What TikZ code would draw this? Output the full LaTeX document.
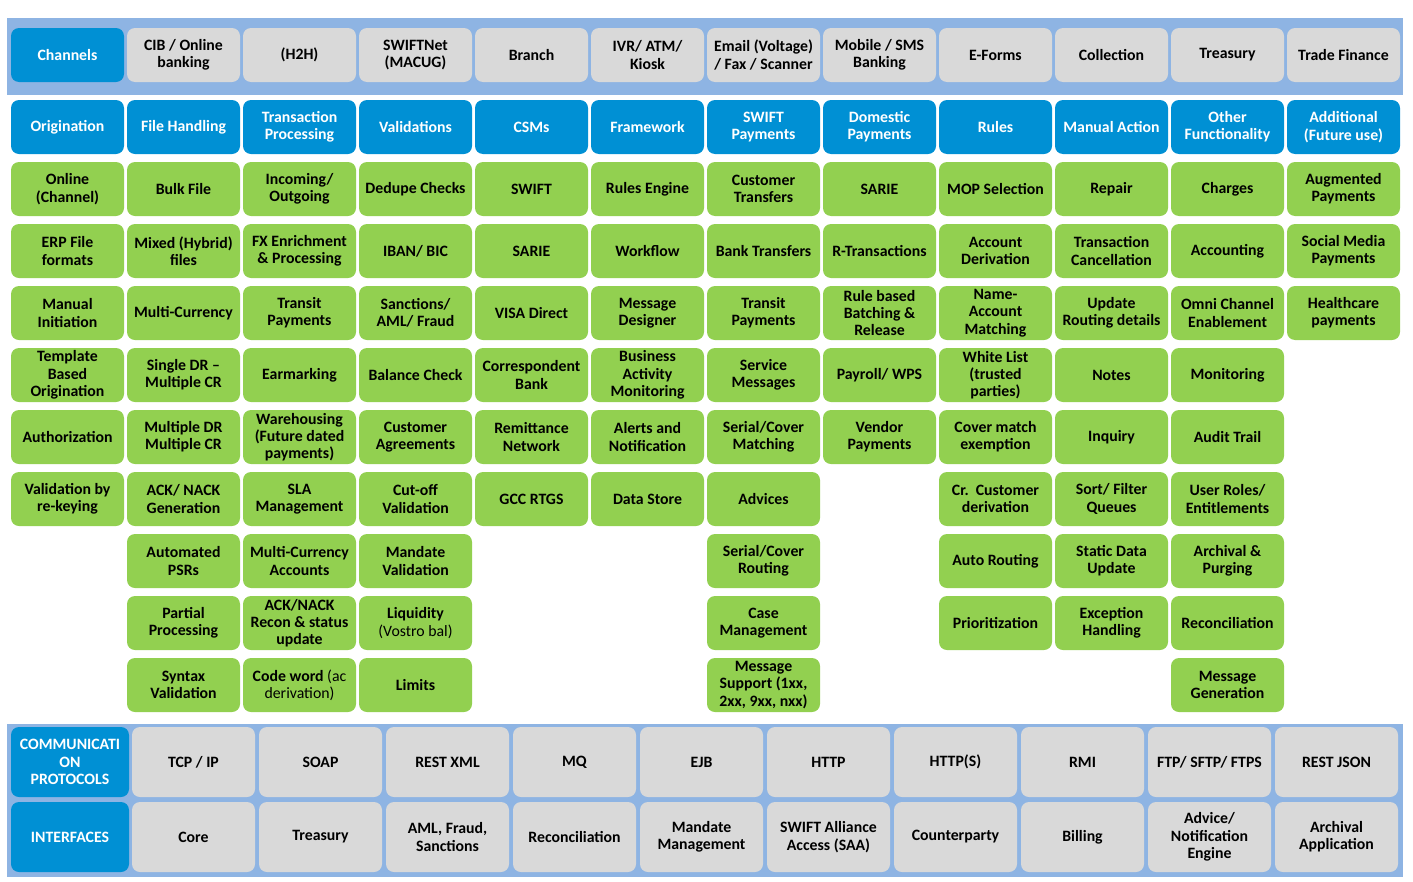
\documentclass[tikz,border=0pt]{standalone}
\usepackage{fontspec}
\setmainfont{Carlito}
\definecolor{bandc}{RGB}{142,180,227}
\definecolor{bluec}{RGB}{0,144,212}
\definecolor{greenc}{RGB}{146,208,80}
\definecolor{grayc}{RGB}{217,217,217}
\tikzset{
  cellbase/.style={rounded corners=8pt, inner sep=0pt, align=center,
    font=\fontsize{15.8}{17.3}\selectfont\bfseries},
  gbox/.style={cellbase, fill=greenc, text=black, minimum width=113pt, minimum height=54pt},
  hbox/.style={cellbase, fill=bluec, text=white, minimum width=113pt, minimum height=54pt},
  tbox/.style={cellbase, fill=grayc, text=black, minimum width=113pt, minimum height=54pt},
  pbox/.style={cellbase, fill=grayc, text=black, minimum width=123pt, minimum height=70pt},
  lbox/.style={cellbase, fill=bluec, text=white, minimum width=118pt, minimum height=70pt},
}
\newcommand\G[3]{\node[gbox] (g#1-#2) at ({67.5+116*(#1-1)},{189+62*(#2-1)}) {#3};}
\newcommand\T[3]{\node[#2] (t#1) at ({67.5+116*(#1-1)},55) {#3};}
\newcommand\HH[2]{\node[hbox] (h#1) at ({67.5+116*(#1-1)},127) {#2};}
\newcommand\BB[4]{\node[pbox] (#1) at ({193.5+127*(#2-1)},#3) {#4};}
\newcommand\rg[1]{{\mdseries #1}}
\begin{document}
\begin{tikzpicture}[x=1pt,y=-1pt]
\useasboundingbox (0,0) rectangle (1413,881);
% bands
\fill[bandc] (7,18) rectangle (1403,95);
\fill[bandc] (7,724) rectangle (1403,877);
% top row
\node[hbox] (t1) at (67.5,55) {Channels};
\T{2}{tbox}{CIB / Online\\banking}
\T{3}{tbox}{(H2H)}
\T{4}{tbox}{SWIFTNet\\(MACUG)}
\T{5}{tbox}{Branch}
\T{6}{tbox}{IVR/ ATM/\\Kiosk}
\T{7}{tbox}{Email (Voltage)\\/ Fax / Scanner}
\T{8}{tbox}{Mobile / SMS\\Banking}
\T{9}{tbox}{E-Forms}
\T{10}{tbox}{Collection}
\T{11}{tbox}{Treasury}
\T{12}{tbox}{Trade Finance}
% headers
\HH{1}{Origination}
\HH{2}{File Handling}
\HH{3}{Transaction\\Processing}
\HH{4}{Validations}
\HH{5}{CSMs}
\HH{6}{Framework}
\HH{7}{SWIFT\\Payments}
\HH{8}{Domestic\\Payments}
\HH{9}{Rules}
\HH{10}{Manual Action}
\HH{11}{Other\\Functionality}
\HH{12}{Additional\\(Future use)}
% column 1
\G{1}{1}{Online\\(Channel)}
\G{1}{2}{ERP File\\formats}
\G{1}{3}{Manual\\Initiation}
\G{1}{4}{Template\\Based\\Origination}
\G{1}{5}{Authorization}
\G{1}{6}{Validation by\\re-keying}
% column 2
\G{2}{1}{Bulk File}
\G{2}{2}{Mixed (Hybrid)\\files}
\G{2}{3}{Multi-Currency}
\G{2}{4}{Single DR --\\Multiple CR}
\G{2}{5}{Multiple DR\\Multiple CR}
\G{2}{6}{ACK/ NACK\\Generation}
\G{2}{7}{Automated\\PSRs}
\G{2}{8}{Partial\\Processing}
\G{2}{9}{Syntax\\Validation}
% column 3
\G{3}{1}{Incoming/\\Outgoing}
\G{3}{2}{FX Enrichment\\\& Processing}
\G{3}{3}{Transit\\Payments}
\G{3}{4}{Earmarking}
\G{3}{5}{Warehousing\\(Future dated\\payments)}
\G{3}{6}{SLA\\Management}
\G{3}{7}{Multi-Currency\\Accounts}
\G{3}{8}{ACK/NACK\\Recon \& status\\update}
\G{3}{9}{Code word \rg{(ac}\\\rg{derivation)}}
% column 4
\G{4}{1}{Dedupe Checks}
\G{4}{2}{IBAN/ BIC}
\G{4}{3}{Sanctions/\\AML/ Fraud}
\G{4}{4}{Balance Check}
\G{4}{5}{Customer\\Agreements}
\G{4}{6}{Cut-off\\Validation}
\G{4}{7}{Mandate\\Validation}
\G{4}{8}{Liquidity\\\rg{(Vostro bal)}}
\G{4}{9}{Limits}
% column 5
\G{5}{1}{SWIFT}
\G{5}{2}{SARIE}
\G{5}{3}{VISA Direct}
\G{5}{4}{Correspondent\\Bank}
\G{5}{5}{Remittance\\Network}
\G{5}{6}{GCC RTGS}
% column 6
\G{6}{1}{Rules Engine}
\G{6}{2}{Workflow}
\G{6}{3}{Message\\Designer}
\G{6}{4}{Business\\Activity\\Monitoring}
\G{6}{5}{Alerts and\\Notification}
\G{6}{6}{Data Store}
% column 7
\G{7}{1}{Customer\\Transfers}
\G{7}{2}{Bank Transfers}
\G{7}{3}{Transit\\Payments}
\G{7}{4}{Service\\Messages}
\G{7}{5}{Serial/Cover\\Matching}
\G{7}{6}{Advices}
\G{7}{7}{Serial/Cover\\Routing}
\G{7}{8}{Case\\Management}
\G{7}{9}{Message\\Support (1xx,\\2xx, 9xx, nxx)}
% column 8
\G{8}{1}{SARIE}
\G{8}{2}{R-Transactions}
\G{8}{3}{Rule based\\Batching \&\\Release}
\G{8}{4}{Payroll/ WPS}
\G{8}{5}{Vendor\\Payments}
% column 9
\G{9}{1}{MOP Selection}
\G{9}{2}{Account\\Derivation}
\G{9}{3}{Name-\\Account\\Matching}
\G{9}{4}{White List\\(trusted\\parties)}
\G{9}{5}{Cover match\\exemption}
\G{9}{6}{Cr.\ \ Customer\\derivation}
\G{9}{7}{Auto Routing}
\G{9}{8}{Prioritization}
% column 10
\G{10}{1}{Repair}
\G{10}{2}{Transaction\\Cancellation}
\G{10}{3}{Update\\Routing details}
\G{10}{4}{Notes}
\G{10}{5}{Inquiry}
\G{10}{6}{Sort/ Filter\\Queues}
\G{10}{7}{Static Data\\Update}
\G{10}{8}{Exception\\Handling}
% column 11
\G{11}{1}{Charges}
\G{11}{2}{Accounting}
\G{11}{3}{Omni Channel\\Enablement}
\G{11}{4}{Monitoring}
\G{11}{5}{Audit Trail}
\G{11}{6}{User Roles/\\Entitlements}
\G{11}{7}{Archival \&\\Purging}
\G{11}{8}{Reconciliation}
\G{11}{9}{Message\\Generation}
% column 12
\G{12}{1}{Augmented\\Payments}
\G{12}{2}{Social Media\\Payments}
\G{12}{3}{Healthcare\\payments}
% bottom: protocols
\node[lbox] (proto) at (70,762) {COMMUNICATI\\ON\\PROTOCOLS};
\BB{p1}{1}{762}{TCP / IP}
\BB{p2}{2}{762}{SOAP}
\BB{p3}{3}{762}{REST XML}
\BB{p4}{4}{762}{MQ}
\BB{p5}{5}{762}{EJB}
\BB{p6}{6}{762}{HTTP}
\BB{p7}{7}{762}{HTTP(S)}
\BB{p8}{8}{762}{RMI}
\BB{p9}{9}{762}{FTP/ SFTP/ FTPS}
\BB{p10}{10}{762}{REST JSON}
% bottom: interfaces
\node[lbox] (intf) at (70,837) {INTERFACES};
\BB{i1}{1}{837}{Core}
\BB{i2}{2}{837}{Treasury}
\BB{i3}{3}{837}{AML, Fraud,\\Sanctions}
\BB{i4}{4}{837}{Reconciliation}
\BB{i5}{5}{837}{Mandate\\Management}
\BB{i6}{6}{837}{SWIFT Alliance\\Access (SAA)}
\BB{i7}{7}{837}{Counterparty}
\BB{i8}{8}{837}{Billing}
\BB{i9}{9}{837}{Advice/\\Notification\\Engine}
\BB{i10}{10}{837}{Archival\\Application}
\end{tikzpicture}
\end{document}
